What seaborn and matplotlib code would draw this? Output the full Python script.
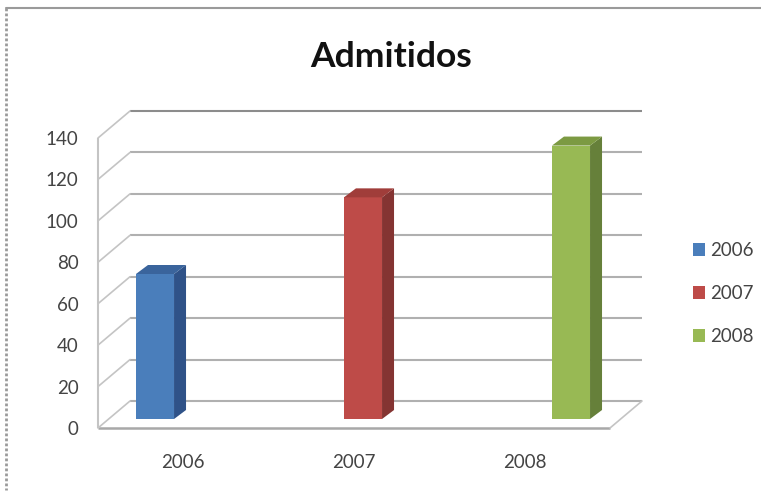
import matplotlib
matplotlib.use("Agg")
import matplotlib.pyplot as plt
from matplotlib.lines import Line2D
from matplotlib.patches import Polygon
from matplotlib.transforms import ScaledTranslation
import pandas as pd
import seaborn as sns

years = ["2006", "2007", "2008"]
admitidos = [70, 107, 132]
y_ticks = [0, 20, 40, 60, 80, 100, 120, 140]
front_colors = ["#4a7ebb", "#be4b48", "#98b954"]
side_colors = ["#2f5288", "#843432", "#66803a"]
top_colors = ["#3a649c", "#a03d3a", "#7c9a42"]

W, H = 761, 500
sns.set_style("white")
plt.rcParams["font.family"] = ["Lato", "DejaVu Sans"]
plt.rcParams["font.size"] = 13.5


def box(left, right, top, bottom):
    # pixel box of the picture -> figure fractions
    return [left / W, 1 - bottom / H, (right - left) / W, (bottom - top) / H]


fig = plt.figure(figsize=(W / 100, H / 100), dpi=100)

# the wall: front edge of the 3D box, ticks and labels
ax = fig.add_axes(box(98, 610, 138, 428))
ax.set_xlim(-0.5, 2.5)
ax.set_ylim(0, 140)
ax.set_xticks(range(3), years)
ax.set_yticks(y_ticks)
ax.tick_params(length=0, labelcolor="#444444", labelsize=13.5)
ax.tick_params(axis="y", pad=14)
ax.tick_params(axis="x", pad=19)
for s in ax.spines.values():
    s.set_visible(False)
ax.patch.set_alpha(0)

back = ax.transData + ScaledTranslation(32 / 100, 27 / 100, fig.dpi_scale_trans)
grid_col = "#b0b0b0"
for t in y_ticks:
    # slanted side wall, then the back line
    ax.hlines(t, -0.5, 2.5, transform=back, color="#8c8c8c" if t == 140 else grid_col, lw=1.5, clip_on=False)
    x0, y0 = ax.transData.transform((-0.5, t))
    x1, y1 = back.transform((-0.5, t))
    fig.add_artist(Line2D([x0 / W, x1 / W], [y0 / H, y1 / H], color="#c4c4c4", lw=1.2))
ax.vlines(-0.5, 0, 140, color="#c4c4c4", lw=1.5, clip_on=False)
ax.hlines(0, -0.5, 2.5, color="#a8a8a8", lw=1.8, clip_on=False)
x0, y0 = ax.transData.transform((2.5, 0))
x1, y1 = back.transform((2.5, 0))
fig.add_artist(Line2D([x0 / W, x1 / W], [y0 / H, y1 / H], color="#c4c4c4", lw=1.2))

# the bars stand on the floor, with their own category spacing
ax_bars = fig.add_axes(box(51, 675, 129, 419))
ax_bars.patch.set_alpha(0)
df = pd.DataFrame({"ano": years, "admitidos": admitidos})
sns.barplot(data=df, x="ano", y="admitidos", hue="ano", palette=front_colors, width=0.183,
            dodge=False, saturation=1, legend=True, linewidth=0, ax=ax_bars, zorder=3)
ax_bars.set_xlim(-0.5, 2.5)
ax_bars.set_ylim(0, 140)
handles, labels = ax_bars.get_legend_handles_labels()
ax_bars.get_legend().remove()
ax_bars.axis("off")

# depth faces from each bar's own geometry
depth = ax_bars.transData + ScaledTranslation(12 / 100, 9 / 100, fig.dpi_scale_trans)
to_data = ax_bars.transData.inverted()
bars = [b for b in ax_bars.patches if b.get_height() > 0]
for i, p in enumerate(bars):
    xa, xb, h = p.get_x(), p.get_x() + p.get_width(), p.get_height()
    da = to_data.transform(depth.transform((xa, h)))
    db = to_data.transform(depth.transform((xb, h)))
    d0 = to_data.transform(depth.transform((xb, 0)))
    ax_bars.add_patch(Polygon([(xb, 0), (xb, h), db, d0], color=side_colors[i], lw=0, clip_on=False, zorder=3))
    ax_bars.add_patch(Polygon([(xa, h), (xb, h), db, da], color=top_colors[i], lw=0, clip_on=False, zorder=3))

fig.legend(handles, labels, loc="center left", bbox_to_anchor=(693 / W, 1 - 293.5 / H), frameon=False,
           fontsize=13.5, labelcolor="#444444", handlelength=0.65, handleheight=0.65, handletextpad=0.25,
           labelspacing=1.38, borderpad=0, borderaxespad=0)

fig.text(391.5 / W, 1 - 57 / H, "Admitidos", ha="center", va="center", fontsize=25.5, fontweight="bold", color="#111111")

# frame of the pasted picture
fig.add_artist(Line2D([5.5 / W, 1], [1 - 8 / H, 1 - 8 / H], color="#9a9a9a", lw=1.5))
fig.add_artist(Line2D([5.5 / W, 5.5 / W], [1 - 8 / H, 0.02], color="#9a9a9a", lw=2, ls=(0, (1, 0.8))))

fig.savefig("out.png", dpi=100)
